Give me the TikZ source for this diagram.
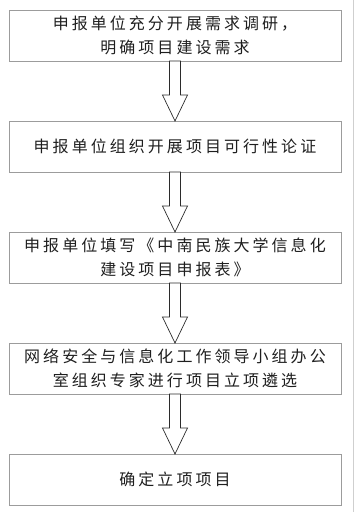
\documentclass[tikz,border=0pt]{standalone}
\usepackage{fontspec}
\newfontfamily\cjk{Noto Sans CJK SC}[LetterSpace=19]
\usepackage{xcolor}
\definecolor{cBox}{HTML}{9C9C9C}
\definecolor{cArrow}{HTML}{2B2B2B}
\definecolor{cText}{HTML}{1E1E1E}
\definecolor{cEdge}{HTML}{CFCFCF}
\usetikzlibrary{positioning,calc}
\tikzset{
  stepbox/.style={draw=cBox,line width=0.9pt,minimum width=332pt,
    minimum height=51pt,inner sep=0pt,outer sep=0pt,align=center,
    text=cText,font=\cjk\fontsize{16}{24}\selectfont},
  flow-arrow/.style={draw=cArrow,line width=0.7pt,fill=white,line join=miter},
  edge-line/.style={draw=cEdge,line width=1pt},
}
% 空心块箭头：从上一步的底边画到下一步的顶边
\newcommand{\flowarrow}[2]{%
  \draw[flow-arrow] ($(#1.south)+(-5.5,0)$) -- ($(#2.north)+(-5.5,26)$)
    -- ($(#2.north)+(-12.5,26)$) -- (#2.north) -- ($(#2.north)+(12.5,26)$)
    -- ($(#2.north)+(5.5,26)$) -- ($(#1.south)+(5.5,0)$) -- cycle;}

\begin{document}
\begin{tikzpicture}[x=1pt,y=1pt,node distance=60pt]
  \useasboundingbox (0,0) rectangle (355,-512);
  \node[stepbox] (need) at (175,-35.5)
    {申报单位充分开展需求调研，\\明确项目建设需求};
  \node[stepbox,below=of need] (study) {申报单位组织开展项目可行性论证};
  \node[stepbox,below=of study] (form)
    {申报单位填写《中南民族大学信息化\\建设项目申报表》};
  \node[stepbox,below=of form] (review)
    {网络安全与信息化工作领导小组办公\\室组织专家进行项目立项遴选};
  \node[stepbox,below=of review] (final) {确定立项项目};

  \flowarrow{need}{study}
  \flowarrow{study}{form}
  \flowarrow{form}{review}
  \flowarrow{review}{final}

  \draw[edge-line] (353,0) -- (353,-512);
\end{tikzpicture}
\end{document}
